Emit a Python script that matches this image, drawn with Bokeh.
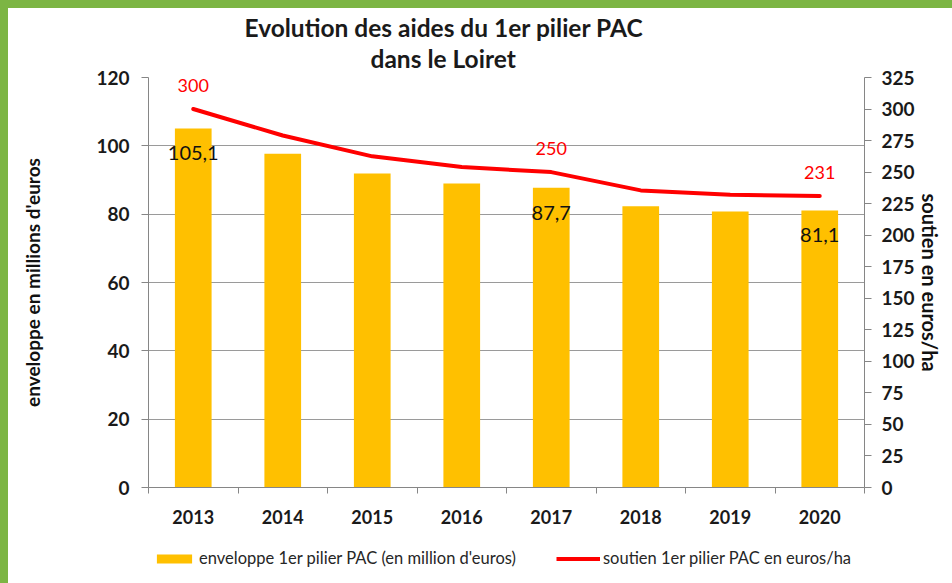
from bokeh.plotting import figure
from bokeh.layouts import column
from bokeh.models import (Range1d, LinearAxis, FixedTicker, Legend, LegendItem,
                          Title, GlobalInlineStyleSheet)
from bokeh.core.properties import value
from bokeh.embed import file_html
from bokeh.resources import INLINE

# ---- data ----
years = ["2013", "2014", "2015", "2016", "2017", "2018", "2019", "2020"]
enveloppe = [105.1, 97.7, 91.9, 89.0, 87.7, 82.3, 80.8, 81.1]   # millions d'euros
soutien = [300, 279, 262.5, 254, 250, 235.5, 232, 231]          # euros/ha
label_years = ["2013", "2017", "2020"]
left_ticks = [0, 20, 40, 60, 80, 100, 120]
right_ticks = [0, 25, 50, 75, 100, 125, 150, 175, 200, 225, 250, 275, 300, 325]

title1 = "Evolution des aides du 1er pilier PAC"
title2 = "dans le Loiret"
bar_name = "enveloppe 1er pilier PAC (en million d'euros)"
line_name = "soutien 1er pilier PAC en euros/ha"

xs = [i + 0.5 for i in range(len(years))]
lab_idx = [years.index(y) for y in label_years]
lab_x = [xs[i] for i in lab_idx]
bar_lab_y = [enveloppe[i] for i in lab_idx]
bar_lab_t = [f"{enveloppe[i]:.1f}".replace(".", ",") for i in lab_idx]
line_lab_y = [soutien[i] for i in lab_idx]
line_lab_t = [f"{soutien[i]:g}" for i in lab_idx]

FONT = "Lato"
AX = "#868686"
GREEN = "#7cb544"
BAR = "#ffc000"
RED = "#ff0000"

fig = figure(width=936, height=536, x_range=Range1d(0, len(years)),
             y_range=Range1d(0, 120), output_backend="svg", toolbar_location=None,
             min_border_left=140, min_border_right=80, min_border_top=69,
             min_border_bottom=57, outline_line_color=None)
fig.extra_y_ranges = {"r": Range1d(0, 325)}

fig.stylesheets = [GlobalInlineStyleSheet(css=(
    "html,body{margin:0;padding:0;}"
    "body{box-sizing:border-box;min-height:100vh;background:#ffffff;"
    "border-top:8px solid %s;border-left:8px solid %s;}" % (GREEN, GREEN)))]

# titles (fig.title is outermost, the added Title sits nearer the frame)
fig.title.text = title1
fig.title.align = "left"
fig.title.offset = 96
fig.title.standoff = -9
fig.title.text_font = FONT
fig.title.text_font_size = "24.5px"
fig.title.text_font_style = "bold"
fig.title.text_color = "#1a1a1a"
t2 = Title(text=title2, align="left", offset=222, standoff=9, text_font=FONT,
           text_font_size="24.5px", text_font_style="bold", text_color="#1a1a1a")
fig.add_layout(t2, "above")

# grid
fig.xgrid.visible = False
fig.ygrid.ticker = FixedTicker(ticks=left_ticks)
fig.ygrid.grid_line_color = "#9a9a9a"
fig.ygrid.grid_line_width = 1.2

# x axis
xa = fig.xaxis[0]
xa.ticker = FixedTicker(ticks=xs, minor_ticks=list(range(0, len(years) + 1)))
xa.major_label_overrides = {x: y for x, y in zip(xs, years)}
xa.major_tick_out = 0
xa.major_tick_in = 0
xa.minor_tick_out = 6
xa.minor_tick_in = 0
xa.minor_tick_line_color = AX
xa.axis_line_color = AX
xa.major_label_standoff = 16
xa.major_label_text_font = FONT
xa.major_label_text_font_size = "18px"
xa.major_label_text_font_style = "bold"
xa.major_label_text_color = "#1a1a1a"

# left axis
ya = fig.yaxis[0]
ya.ticker = FixedTicker(ticks=left_ticks)
ya.axis_label = "enveloppe en millions d'euros"
ya.axis_label_standoff = 49
ya.axis_label_text_font = FONT
ya.axis_label_text_font_size = "19px"
ya.axis_label_text_font_style = "bold"
ya.axis_label_text_color = "#111111"
ya.major_tick_out = 7
ya.major_tick_in = 0
ya.minor_tick_line_color = None
ya.axis_line_color = AX
ya.major_tick_line_color = AX
ya.major_label_standoff = 12
ya.major_label_text_font = FONT
ya.major_label_text_font_size = "19px"
ya.major_label_text_font_style = "bold"
ya.major_label_text_color = "#1a1a1a"

# right axis
ra = LinearAxis(y_range_name="r", ticker=FixedTicker(ticks=right_ticks),
                axis_label="soutien en euros/ha")
ra.axis_label_standoff = 0
ra.axis_label_text_font = FONT
ra.axis_label_text_font_size = "20px"
ra.axis_label_text_font_style = "bold"
ra.axis_label_text_color = "#111111"
ra.major_tick_out = 7
ra.major_tick_in = 0
ra.minor_tick_line_color = None
ra.axis_line_color = AX
ra.major_tick_line_color = AX
ra.major_label_standoff = 10
ra.major_label_text_font = FONT
ra.major_label_text_font_size = "19px"
ra.major_label_text_font_style = "bold"
ra.major_label_text_color = "#1a1a1a"
fig.add_layout(ra, "right")

# glyphs
fig.vbar(x=xs, top=enveloppe, width=0.41, fill_color=BAR, line_color=None)
fig.line(x=xs, y=soutien, y_range_name="r", line_color=RED,
         line_width=4, line_join="round", line_cap="round")

fig.text(x=lab_x, y=bar_lab_y, text=bar_lab_t, y_offset=25, text_align="center",
         text_baseline="middle", text_font=value(FONT), text_font_size="20px",
         text_color="#111111")
fig.text(x=lab_x, y=line_lab_y, text=line_lab_t, y_offset=-24, y_range_name="r",
         text_align="center", text_baseline="middle", text_font=value(FONT),
         text_font_size="18px", text_color=RED)

# legend strip below the chart (its renderers reuse the data but lie far
# outside the strip's visible range, so only the legend is seen)
leg = figure(width=936, height=31, output_backend="svg", toolbar_location=None,
             x_range=Range1d(1000, 1001), y_range=Range1d(1000, 1001),
             x_axis_location=None, y_axis_location=None, min_border=0,
             outline_line_color=None)
leg.grid.visible = False
lb = leg.vbar(x=xs, top=enveloppe, width=0.41, fill_color=BAR, line_color=None)
ll = leg.line(x=xs, y=soutien, line_color=RED, line_width=4)
legend = Legend(items=[LegendItem(label=bar_name, renderers=[lb]),
                       LegendItem(label=line_name, renderers=[ll])],
                orientation="horizontal", location=(4, 7),
                border_line_color=None, background_fill_alpha=0,
                padding=0, margin=0, spacing=40, glyph_width=44, glyph_height=11,
                label_standoff=3, label_text_font=FONT,
                label_text_font_size="16.5px", label_text_color="#262626")
leg.add_layout(legend)

p = column(fig, leg, spacing=0)

open("out.html", "w").write(file_html(p, INLINE))
